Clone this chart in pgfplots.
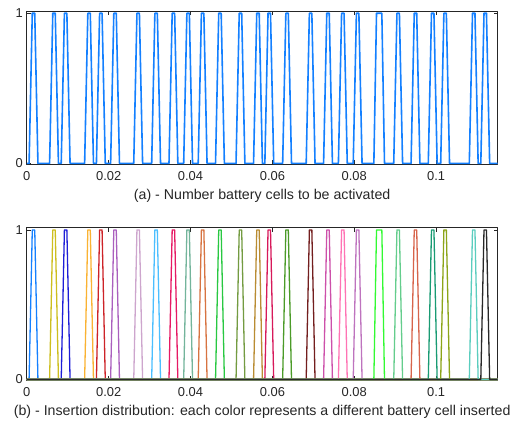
\documentclass[border=0pt]{standalone}
\usepackage{fontspec}
\setmainfont{Liberation Sans}
\usepackage{pgfplots}
\pgfplotsset{compat=1.18}
\definecolor{axgray}{rgb}{0.15,0.15,0.15}
\definecolor{sigblue}{RGB}{20,128,255}
\definecolor{c1}{RGB}{20,128,255}
\definecolor{c2}{RGB}{205,190,30}
\definecolor{c3}{RGB}{30,30,215}
\definecolor{c4}{RGB}{250,178,50}
\definecolor{c5}{RGB}{205,35,40}
\definecolor{c6}{RGB}{170,95,190}
\definecolor{c7}{RGB}{205,165,205}
\definecolor{c8}{RGB}{75,190,255}
\definecolor{c9}{RGB}{230,25,100}
\definecolor{c10}{RGB}{115,180,155}
\definecolor{c11}{RGB}{215,115,65}
\definecolor{c12}{RGB}{40,200,65}
\definecolor{c13}{RGB}{115,155,65}
\definecolor{c14}{RGB}{185,140,50}
\definecolor{c15}{RGB}{215,25,90}
\definecolor{c16}{RGB}{75,155,40}
\definecolor{c17}{RGB}{115,30,30}
\definecolor{c18}{RGB}{205,80,170}
\definecolor{c19}{RGB}{255,115,180}
\definecolor{c20}{RGB}{190,115,190}
\definecolor{c21}{RGB}{50,250,50}
\definecolor{c22}{RGB}{100,205,140}
\definecolor{c23}{RGB}{215,100,75}
\definecolor{c24}{RGB}{25,155,115}
\definecolor{c25}{RGB}{140,165,25}
\definecolor{c26}{RGB}{90,205,190}
\definecolor{c27}{RGB}{40,40,40}
\pgfplotsset{
  panel/.style={
    scale only axis,
    width=470.7pt,
    xmin=0, xmax=0.115,
    ymin=-0.004, ymax=1.015,
    xtick={0,0.02,0.04,0.06,0.08,0.1},
    xticklabels={0,0.02,0.04,0.06,0.08,0.1},
    ytick={0,1},
    yticklabels={0,1},
    tick align=inside,
    major tick length=4pt,
    axis line style={axgray, line width=0.9pt},
    every tick/.style={axgray, line width=0.7pt},
    ticklabel style={font=\fontsize{12.9}{14}\selectfont, text=axgray},
    xticklabel style={yshift=-4pt},
    yticklabel style={xshift=-0.5pt},
    label style={font=\fontsize{14.2}{16}\selectfont, text=axgray},
    xlabel style={at={(axis description cs:0.5,-0.21)}, anchor=center},
    line join=round,
  },
}
\begin{document}
\begin{tikzpicture}
\useasboundingbox (0,0) rectangle (510pt,424pt);
% ---------- (a) ----------
\begin{axis}[panel, height=153pt, at={(26.8pt,260pt)}, anchor=south west,
  xlabel={(a) - Number battery cells to be activated}]
\addplot[sigblue, line width=1.6pt] coordinates {
(0,0)
(0.00056,0)(0.00134,1)(0.00194,1)(0.00272,0)
(0.00557,0)(0.00635,1)(0.00695,1)(0.00773,0)
(0.00841,0)(0.00919,1)(0.00979,1)(0.01057,0)
(0.01413,0)(0.01491,1)(0.01551,1)(0.01629,0)
(0.01701,0)(0.01779,1)(0.01839,1)(0.01917,0)
(0.02048,0)(0.02126,1)(0.02186,1)(0.02264,0)
(0.02613,0)(0.02691,1)(0.02751,1)(0.02829,0)
(0.03051,0)(0.03129,1)(0.03189,1)(0.03267,0)
(0.03474,0)(0.03552,1)(0.03612,1)(0.03690,0)
(0.03833,0)(0.03911,1)(0.03971,1)(0.04049,0)
(0.04188,0)(0.04266,1)(0.04326,1)(0.04404,0)
(0.04611,0)(0.04689,1)(0.04749,1)(0.04827,0)
(0.05112,0)(0.05190,1)(0.05250,1)(0.05328,0)
(0.05540,0)(0.05618,1)(0.05678,1)(0.05756,0)
(0.05816,0)(0.05894,1)(0.05954,1)(0.06032,0)
(0.06251,0)(0.06329,1)(0.06389,1)(0.06467,0)
(0.06826,0)(0.06904,1)(0.06964,1)(0.07042,0)
(0.07251,0)(0.07329,1)(0.07389,1)(0.07467,0)
(0.07613,0)(0.07691,1)(0.07751,1)(0.07829,0)
(0.07975,0)(0.08053,1)(0.08113,1)(0.08191,0)
(0.08479,0)(0.08544,1)(0.08674,1)(0.08739,0)
(0.08965,0)(0.09043,1)(0.09103,1)(0.09181,0)
(0.09388,0)(0.09466,1)(0.09526,1)(0.09604,0)
(0.09809,0)(0.09887,1)(0.09947,1)(0.10025,0)
(0.10112,0)(0.10190,1)(0.10250,1)(0.10328,0)
(0.10811,0)(0.10889,1)(0.10949,1)(0.11027,0)
(0.11092,0)(0.11170,1)(0.11230,1)(0.11308,0)
(0.115,0)
};
\end{axis}
% ---------- (b) ----------
\begin{axis}[panel, height=152.3pt, at={(26.8pt,44pt)}, anchor=south west,
  xlabel={(b) - Insertion distribution: each color represents a different battery cell inserted},
  every axis plot/.append style={line width=1.3pt}]
\addplot[c1]  coordinates {(0,0)(0.00056,0)(0.00134,1)(0.00194,1)(0.00272,0)(0.115,0)};
\addplot[c2]  coordinates {(0,0)(0.00557,0)(0.00635,1)(0.00695,1)(0.00773,0)(0.115,0)};
\addplot[c3]  coordinates {(0,0)(0.00841,0)(0.00919,1)(0.00979,1)(0.01057,0)(0.115,0)};
\addplot[c4]  coordinates {(0,0)(0.01413,0)(0.01491,1)(0.01551,1)(0.01629,0)(0.115,0)};
\addplot[c5]  coordinates {(0,0)(0.01701,0)(0.01779,1)(0.01839,1)(0.01917,0)(0.115,0)};
\addplot[c6]  coordinates {(0,0)(0.02048,0)(0.02126,1)(0.02186,1)(0.02264,0)(0.115,0)};
\addplot[c7]  coordinates {(0,0)(0.02613,0)(0.02691,1)(0.02751,1)(0.02829,0)(0.115,0)};
\addplot[c8]  coordinates {(0,0)(0.03051,0)(0.03129,1)(0.03189,1)(0.03267,0)(0.115,0)};
\addplot[c9]  coordinates {(0,0)(0.03474,0)(0.03552,1)(0.03612,1)(0.03690,0)(0.115,0)};
\addplot[c10] coordinates {(0,0)(0.03833,0)(0.03911,1)(0.03971,1)(0.04049,0)(0.115,0)};
\addplot[c11] coordinates {(0,0)(0.04188,0)(0.04266,1)(0.04326,1)(0.04404,0)(0.115,0)};
\addplot[c12] coordinates {(0,0)(0.04611,0)(0.04689,1)(0.04749,1)(0.04827,0)(0.115,0)};
\addplot[c13] coordinates {(0,0)(0.05112,0)(0.05190,1)(0.05250,1)(0.05328,0)(0.115,0)};
\addplot[c14] coordinates {(0,0)(0.05540,0)(0.05618,1)(0.05678,1)(0.05756,0)(0.115,0)};
\addplot[c15] coordinates {(0,0)(0.05816,0)(0.05894,1)(0.05954,1)(0.06032,0)(0.115,0)};
\addplot[c16] coordinates {(0,0)(0.06251,0)(0.06329,1)(0.06389,1)(0.06467,0)(0.115,0)};
\addplot[c17] coordinates {(0,0)(0.06826,0)(0.06904,1)(0.06964,1)(0.07042,0)(0.115,0)};
\addplot[c18] coordinates {(0,0)(0.07251,0)(0.07329,1)(0.07389,1)(0.07467,0)(0.115,0)};
\addplot[c19] coordinates {(0,0)(0.07613,0)(0.07691,1)(0.07751,1)(0.07829,0)(0.115,0)};
\addplot[c20] coordinates {(0,0)(0.07975,0)(0.08053,1)(0.08113,1)(0.08191,0)(0.115,0)};
\addplot[c21] coordinates {(0,0)(0.08479,0)(0.08544,1)(0.08674,1)(0.08739,0)(0.115,0)};
\addplot[c22] coordinates {(0,0)(0.08965,0)(0.09043,1)(0.09103,1)(0.09181,0)(0.115,0)};
\addplot[c23] coordinates {(0,0)(0.09388,0)(0.09466,1)(0.09526,1)(0.09604,0)(0.115,0)};
\addplot[c24] coordinates {(0,0)(0.09809,0)(0.09887,1)(0.09947,1)(0.10025,0)(0.115,0)};
\addplot[c25] coordinates {(0,0)(0.10112,0)(0.10190,1)(0.10250,1)(0.10328,0)(0.115,0)};
\addplot[c26] coordinates {(0,0)(0.10811,0)(0.10889,1)(0.10949,1)(0.11027,0)(0.115,0)};
\addplot[c27] coordinates {(0,0)(0.11092,0)(0.11170,1)(0.11230,1)(0.11308,0)(0.115,0)};
\end{axis}
\end{tikzpicture}
\end{document}
